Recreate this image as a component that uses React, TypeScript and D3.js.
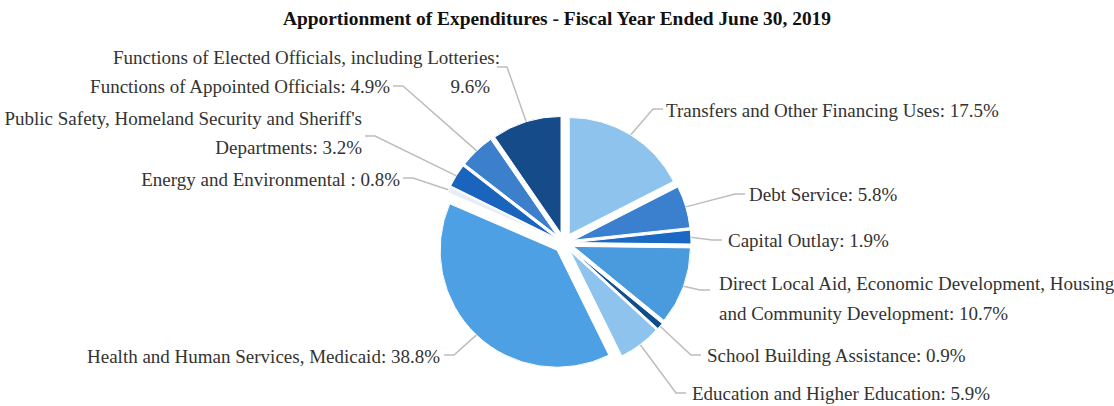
import * as d3 from "d3";

const categories = [
  "Transfers and Other Financing Uses",
  "Debt Service",
  "Capital Outlay",
  "Direct Local Aid, Economic Development, Housing and Community Development",
  "School Building Assistance",
  "Education and Higher Education",
  "Health and Human Services, Medicaid",
  "Energy and Environmental ",
  "Public Safety, Homeland Security and Sheriff's Departments",
  "Functions of Appointed Officials",
  "Functions of Elected Officials, including Lotteries",
];

const shares = [17.5, 5.8, 1.9, 10.7, 0.9, 5.9, 38.8, 0.8, 3.2, 4.9, 9.6];

const colors = [
  "#8dc3ec",
  "#3b7fcf",
  "#1b69c2",
  "#4a9ade",
  "#0f4e8e",
  "#8dc3ec",
  "#4ca0e3",
  "#e6edf5",
  "#1b64bd",
  "#3c80cc",
  "#164b8a",
];

// label text lines (as printed in the chart)
const labelLines = [
  ["Transfers and Other Financing Uses: 17.5%"],
  ["Debt Service: 5.8%"],
  ["Capital Outlay: 1.9%"],
  ["Direct Local Aid, Economic Development, Housing", "and Community Development: 10.7%"],
  ["School Building Assistance: 0.9%"],
  ["Education and Higher Education: 5.9%"],
  ["Health and Human Services, Medicaid: 38.8%"],
  ["Energy and Environmental : 0.8%"],
  ["Public Safety, Homeland Security and Sheriff's", "Departments: 3.2%"],
  ["Functions of Appointed Officials: 4.9%"],
  ["Functions of Elected Officials, including Lotteries:", "9.6%"],
];

const title = "Apportionment of Expenditures - Fiscal Year Ended June 30, 2019";

// label placement: connector point and per-line text anchors
const labelLayout = [
  { cx: 663, cy: 109, lines: [[666, 110]] },
  { cx: 745, cy: 194, lines: [[749, 194]] },
  { cx: 722, cy: 240, lines: [[728, 240]] },
  { cx: 710, cy: 290, lines: [[719, 283], [719, 313]] },
  { cx: 701, cy: 355, lines: [[707, 355]] },
  { cx: 686, cy: 393, lines: [[692, 393]] },
  { cx: 444, cy: 355, lines: [[440, 356]] },
  { cx: 403, cy: 178, lines: [[400, 179]] },
  { cx: 365, cy: 136, lines: [[362, 118], [362, 147]] },
  { cx: 393, cy: 86, lines: [[390, 86]] },
  { cx: 497, cy: 67, lines: [[500, 57], [490, 86]] },
];

const FONT = "'Liberation Serif', 'Times New Roman', serif";

export default function App() {
  const width = 1114;
  const height = 406;
  const center = { x: 564, y: 243 };
  const radius = 117;
  const explode = 10;

  const data = categories.map((c, i) => ({ name: c, value: shares[i], i }));

  const pie = d3
    .pie<any>()
    .sort(null)
    .value((d) => d.value)
    .startAngle(0)
    .endAngle(2 * Math.PI);

  const arcs = pie(data);
  const arc = d3.arc<any>().innerRadius(0).outerRadius(radius);

  const midOf = (a: any) => (a.startAngle + a.endAngle) / 2;
  const off = (a: any, d: number) => {
    const mid = midOf(a);
    return [Math.sin(mid) * d, -Math.cos(mid) * d];
  };

  return (
    <div style={{ position: "absolute", left: 0, top: 0, background: "#fff" }}>
      <svg width={width} height={height} style={{ fontFamily: FONT, display: "block" }}>
        <text
          x={557}
          y={18}
          dy="0.35em"
          textAnchor="middle"
          fontWeight="bold"
          fontSize={19.4}
          fill="#111"
          style={{ fontFamily: FONT }}
        >
          {title}
        </text>

        {/* leader lines */}
        <g>
          {arcs.map((a, i) => {
            const mid = midOf(a);
            const [ox, oy] = off(a, explode);
            const px = center.x + ox + Math.sin(mid) * (radius - 2);
            const py = center.y + oy - Math.cos(mid) * (radius - 2);
            const lay = labelLayout[i];
            const side = Math.sin(mid) >= 0 ? 1 : -1;
            const p = d3.path();
            p.moveTo(px, py);
            p.lineTo(lay.cx - side * 10, lay.cy);
            p.lineTo(lay.cx, lay.cy);
            return (
              <path
                key={i}
                d={p.toString()}
                fill="none"
                stroke="#bdbdbd"
                strokeWidth={1.5}
              />
            );
          })}
        </g>

        <g transform={`translate(${center.x}, ${center.y})`}>
          {arcs.map((a, i) => {
            const [ox, oy] = off(a, explode);
            return (
              <path
                key={i}
                d={arc(a) as string}
                transform={`translate(${ox}, ${oy})`}
                fill={colors[a.data.i]}
                stroke="#fff"
                strokeWidth={1}
              />
            );
          })}
        </g>

        <g>
          {arcs.map((a, i) => {
            const anchor = Math.sin(midOf(a)) >= 0 ? "start" : "end";
            return labelLines[i].map((t, j) => {
              const [x, y] = labelLayout[i].lines[j];
              return (
                <text
                  key={`${i}-${j}`}
                  x={x}
                  y={y}
                  dy="0.35em"
                  textAnchor={anchor}
                  fontSize={19}
                  fill="#333"
                  style={{ fontFamily: FONT }}
                >
                  {t}
                </text>
              );
            });
          })}
        </g>
      </svg>
    </div>
  );
}
